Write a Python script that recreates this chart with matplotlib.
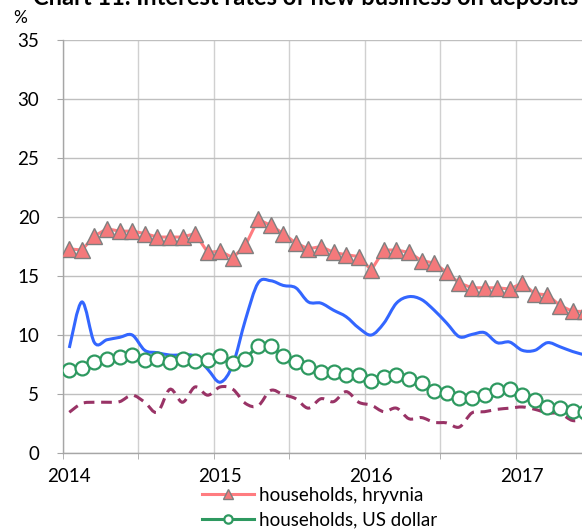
import matplotlib
matplotlib.use("Agg")
import matplotlib.pyplot as plt
from matplotlib.path import Path
from matplotlib.patches import PathPatch
from matplotlib.ticker import FixedLocator, MultipleLocator
import numpy as np

plt.rcParams['font.family'] = ['Lato', 'DejaVu Sans']

# monthly data, Jan 2014 - Jun 2017
start_year = 2014
hh_uah = [17.3, 17.2, 18.4, 19.0, 18.8, 18.8, 18.6, 18.3, 18.3, 18.3, 18.6, 17.0,
          17.1, 16.55, 17.6, 19.8, 19.3, 18.6, 17.8, 17.3, 17.5, 17.0, 16.8, 16.65,
          15.5, 17.2, 17.2, 17.0, 16.3, 16.1, 15.3, 14.4, 14.0, 14.0, 14.0, 13.9,
          14.4, 13.5, 13.4, 12.5, 12.0, 12.0]
hh_usd = [7.0, 7.2, 7.7, 8.0, 8.1, 8.3, 7.9, 8.0, 7.7, 8.0, 7.8, 7.9,
          8.2, 7.6, 8.0, 9.1, 9.1, 8.2, 7.7, 7.3, 6.9, 6.85, 6.6, 6.65,
          6.1, 6.4, 6.6, 6.3, 5.9, 5.25, 5.1, 4.7, 4.7, 4.9, 5.3, 5.4,
          4.9, 4.5, 3.9, 3.8, 3.6, 3.5]
corp_uah = [8.9, 12.8, 9.35, 9.6, 9.8, 10.0, 8.7, 8.5, 8.3, 8.3, 8.2, 7.1,
            6.0, 7.5, 11.3, 14.4, 14.6, 14.2, 14.0, 12.8, 12.7, 12.1, 11.55, 10.6,
            10.0, 11.0, 12.7, 13.25, 13.0, 12.1, 11.0, 9.85, 10.05, 10.2, 9.35, 9.4,
            8.7, 8.7, 9.35, 9.0, 8.6, 8.3]
corp_usd = [3.45, 4.2, 4.3, 4.3, 4.35, 4.9, 4.3, 3.45, 5.4, 4.3, 5.6, 4.9,
            5.6, 5.4, 4.2, 4.0, 5.3, 4.95, 4.6, 3.8, 4.6, 4.35, 5.2, 4.3,
            4.05, 3.5, 3.8, 2.9, 3.0, 2.6, 2.55, 2.2, 3.4, 3.5, 3.7, 3.8,
            3.9, 3.7, 3.4, 3.35, 2.75, 2.9]
year_labels = ['2014', '2015', '2016', '2017']

x = start_year + (np.arange(len(hh_uah)) + 0.5) / 12


def smooth_line(ax, xs, ys, **kw):
    # excel-like smoothed line (cubic bezier through the points)
    n = len(xs)
    verts = [(xs[0], ys[0])]
    codes = [Path.MOVETO]
    for i in range(n - 1):
        p0 = max(i - 1, 0)
        p3 = min(i + 2, n - 1)
        c1 = (xs[i] + (xs[i + 1] - xs[p0]) / 6, ys[i] + (ys[i + 1] - ys[p0]) / 6)
        c2 = (xs[i + 1] - (xs[p3] - xs[i]) / 6, ys[i + 1] - (ys[p3] - ys[i]) / 6)
        verts += [c1, c2, (xs[i + 1], ys[i + 1])]
        codes += [Path.CURVE4] * 3
    ax.add_patch(PathPatch(Path(verts, codes), fill=False, **kw))


fig = plt.figure(figsize=(5.82, 5.29), dpi=100)
ax = fig.add_axes([63 / 582, 1 - 453 / 529, 519 / 582, 413 / 529])

smooth_line(ax, x, corp_uah, edgecolor='#3366FF', lw=2.2, zorder=3)
smooth_line(ax, x, corp_usd, edgecolor='#993366', lw=2.2,
            linestyle=(0, (3.5, 2.2)), zorder=3)
l1, = ax.plot(x, hh_uah, color='#FF7C80', lw=2.2, marker='^', markersize=11,
              markerfacecolor='#F4797B', markeredgecolor='#7F7F7F',
              markeredgewidth=1.0, label='households, hryvnia', zorder=4)
l2, = ax.plot(x, hh_usd, color='#2E9960', lw=2.2, marker='o', markersize=10,
              markerfacecolor='white', markeredgecolor='#2E9960',
              markeredgewidth=1.6, label='households, US dollar', zorder=4)

ax.set_xlim(2014, 2014 + 519 / 151)
ax.set_ylim(0, 35)
ax.yaxis.set_major_locator(MultipleLocator(5))
ax.xaxis.set_major_locator(FixedLocator([int(y) + 1 / 24 for y in year_labels]))
ax.set_xticklabels(year_labels)
ax.xaxis.set_minor_locator(MultipleLocator(0.5))

ax.grid(axis='y', color='#BFBFBF', lw=1.0)
ax.grid(axis='x', which='minor', color='#D0D0D0', lw=1.0)
ax.set_axisbelow(True)
for s in ['top', 'right']:
    ax.spines[s].set_visible(False)
for s in ['left', 'bottom']:
    ax.spines[s].set_color('#A6A6A6')
    ax.spines[s].set_linewidth(1.0)

ax.tick_params(axis='x', which='major', length=0, pad=11, labelsize=13.5)
ax.tick_params(axis='x', which='minor', length=4, color='#A6A6A6')
ax.tick_params(axis='y', length=4, color='#A6A6A6', pad=13, labelsize=13.5)

# title is partly cut off at the top, as in the original
fig.text(306 / 582, 1 - 5 / 529, 'Chart 11. Interest rates of new business on deposits',
         ha='center', va='baseline', fontsize=17, fontweight='bold')
fig.text(13 / 582, 1 - 18 / 529, '%', ha='left', va='center', fontsize=12.5)

fig.legend(handles=[l1, l2], loc='upper left', bbox_to_anchor=(202 / 582, 1 - 487 / 529),
           frameon=False, fontsize=13.5, handlelength=2.75, handletextpad=0.3,
           labelspacing=0.4, borderpad=0, borderaxespad=0, markerscale=0.6)

fig.savefig('out.png', dpi=100)
